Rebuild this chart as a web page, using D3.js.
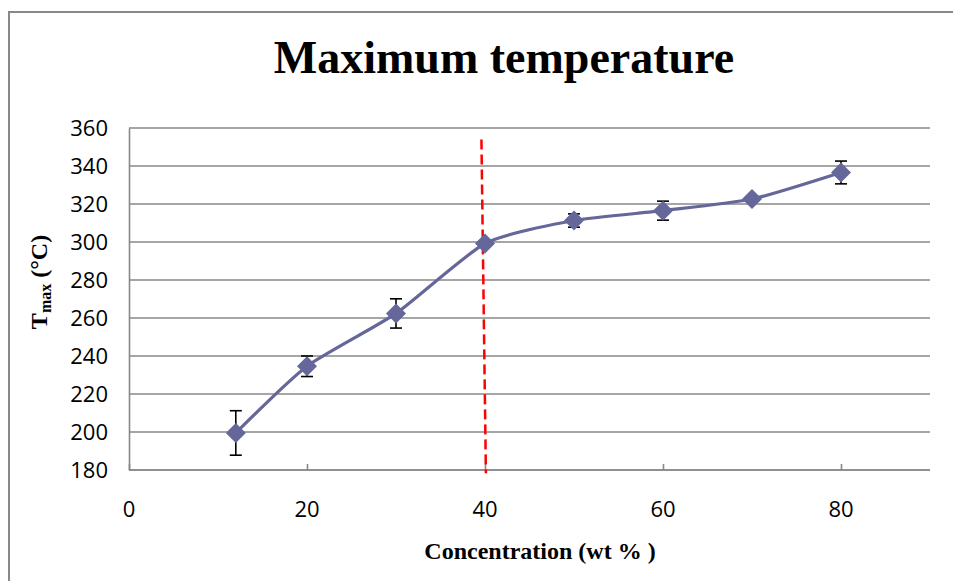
<!DOCTYPE html>
<html><head><meta charset="utf-8">
<script src="https://cdn.jsdelivr.net/npm/d3@7"></script>
<style>body{margin:0;background:#fff}svg{display:block}</style>
</head><body>
<svg id="c" width="953" height="581"></svg>
<script>
const concentration = [12, 20, 30, 40, 50, 60, 70, 80];
const tmax = [199.5, 234.6, 262.4, 299.2, 311.3, 316.5, 322.6, 336.6];
const tmaxErr = [11.7, 5.4, 7.7, 0, 3.5, 5, 0, 6];
const xTicks = [0, 20, 40, 60, 80];
const yTicks = [180, 200, 220, 240, 260, 280, 300, 320, 340, 360];
const markerLine = [[39.6, 354], [40.1, 178.3]];
const titleText = "Maximum temperature";
const xLabel = "Concentration (wt % )";

const svg = d3.select("#c");
const x = d3.scaleLinear().domain([0, 90]).range([129, 930]);
const y = d3.scaleLinear().domain([180, 360]).range([470, 128]);
const grid = "#888888";

// chart border (top & left visible)
svg.append("path").attr("d", "M9,581 V12 H953").attr("fill", "none")
  .attr("stroke", grid).attr("stroke-width", 2);

// title
svg.append("text").attr("x", 504).attr("y", 73).attr("text-anchor", "middle")
  .attr("font-family", "Liberation Serif, Times New Roman, serif").attr("font-weight", "bold")
  .attr("font-size", 46).text(titleText);

// gridlines
svg.append("g").selectAll("line").data(yTicks).join("line")
  .attr("x1", x(0)).attr("x2", x(90)).attr("y1", d => y(d)).attr("y2", d => y(d))
  .attr("stroke", grid).attr("stroke-width", 1.6);

// y axis
const ya = svg.append("g").attr("transform", `translate(${x(0)},0)`)
  .call(d3.axisLeft(y).tickValues(yTicks).tickSize(0).tickPadding(21));
ya.select(".domain").attr("stroke", grid).attr("stroke-width", 1.6);
ya.selectAll("text").attr("font-family", "Open Sans, sans-serif").attr("font-size", 22).attr("fill", "#000");

// x axis
const xa = svg.append("g").attr("transform", `translate(0,${y(180)})`)
  .call(d3.axisTop(x).tickValues(xTicks).tickSize(6).tickFormat(""));
xa.select(".domain").remove();
xa.selectAll("line").attr("stroke", grid).attr("stroke-width", 1.6);
svg.append("line").attr("x1", x(0)).attr("x2", x(90)).attr("y1", y(180)).attr("y2", y(180))
  .attr("stroke", grid).attr("stroke-width", 1.6);
svg.append("g").selectAll("text").data(xTicks).join("text")
  .attr("x", d => x(d)).attr("y", 517).attr("text-anchor", "middle")
  .attr("font-family", "Open Sans, sans-serif").attr("font-size", 22).attr("fill", "#000")
  .text(d => d);

// axis titles
svg.append("text").attr("x", 540).attr("y", 559).attr("text-anchor", "middle")
  .attr("font-family", "Liberation Serif, Times New Roman, serif").attr("font-weight", "bold")
  .attr("font-size", 24).text(xLabel);
const yl = svg.append("text").attr("transform", "translate(47,282) rotate(-90)")
  .attr("text-anchor", "middle")
  .attr("font-family", "Liberation Serif, Times New Roman, serif").attr("font-weight", "bold")
  .attr("font-size", 24);
yl.append("tspan").text("T");
yl.append("tspan").attr("font-size", 16).attr("dy", 4).text("max");
yl.append("tspan").attr("dy", -4).text(" (°C)");

// red dashed line
svg.append("line")
  .attr("x1", x(markerLine[0][0])).attr("y1", y(markerLine[0][1]))
  .attr("x2", x(markerLine[1][0])).attr("y2", y(markerLine[1][1]))
  .attr("stroke", "#ff0000").attr("stroke-width", 2.5).attr("stroke-dasharray", "10,5");

const pts = concentration.map((c, i) => ({ c, t: tmax[i], e: tmaxErr[i] }));

// error bars
const eb = svg.append("g").attr("stroke", "#000").attr("stroke-width", 1.6);
pts.filter(d => d.e > 0).forEach(d => {
  eb.append("line").attr("x1", x(d.c)).attr("x2", x(d.c)).attr("y1", y(d.t - d.e)).attr("y2", y(d.t + d.e));
  [d.t - d.e, d.t + d.e].forEach(v => eb.append("line")
    .attr("x1", x(d.c) - 6).attr("x2", x(d.c) + 6).attr("y1", y(v)).attr("y2", y(v)));
});

// smooth line
const line = d3.line().x(d => x(d.c)).y(d => y(d.t)).curve(d3.curveCardinal.tension(0.4));
svg.append("path").datum(pts).attr("d", line).attr("fill", "none")
  .attr("stroke", "#65679a").attr("stroke-width", 3.2);

// diamond markers
svg.append("g").selectAll("path").data(pts).join("path")
  .attr("transform", d => `translate(${x(d.c)},${y(d.t)})`)
  .attr("d", "M0,-10 L10,0 L0,10 L-10,0 Z")
  .attr("fill", "#65679a");
</script>
</body></html>
